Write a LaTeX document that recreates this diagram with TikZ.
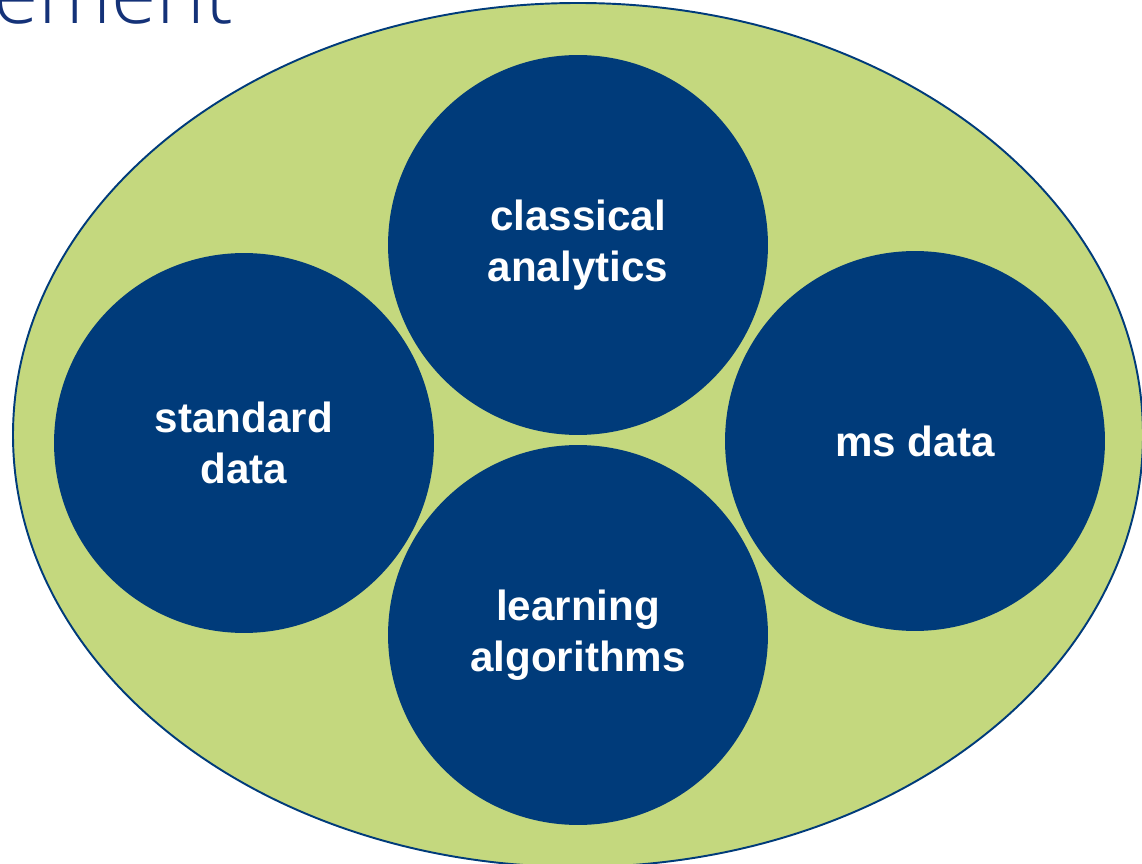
\documentclass[tikz,border=0pt]{standalone}
\usepackage{fontspec}
\setmainfont{Liberation Sans}
\newfontfamily\titlefont{Open Sans Light}
\usetikzlibrary{positioning}
\definecolor{mygreen}{RGB}{196,216,126}
\definecolor{myblue}{RGB}{0,59,122}
\definecolor{mytitle}{RGB}{20,50,120}

\begin{document}
\begin{tikzpicture}[x=0.02cm, y=-0.02cm,
topic/.style={
  circle,
  fill=myblue,
  text=white,
  inner sep=0pt,
  minimum size=7.6cm,
  align=center,
  font=\fontsize{24}{29}\selectfont\bfseries}
]
\useasboundingbox (0,0) rectangle (1142,864);
\clip (0,0) rectangle (1142,864);
% title, cut off
\node[anchor=base west, inner sep=0pt, text=mytitle,
  font=\titlefont\fontsize{47}{50}\selectfont] (title) at (-7,24) {ement};
% outer field
\draw[myblue, line width=1.1pt, fill=mygreen] (578,435) ellipse [x radius=565, y radius=432];
\node[topic] (classical) at (578,245) {classical\\analytics};
\node[topic] (standard) at (244,443) {standard\\data};
\node[topic] (ms) at (915,441) {ms data};
\node[topic] (learning) at (578,635) {learning\\algorithms};
\end{tikzpicture}
\end{document}
